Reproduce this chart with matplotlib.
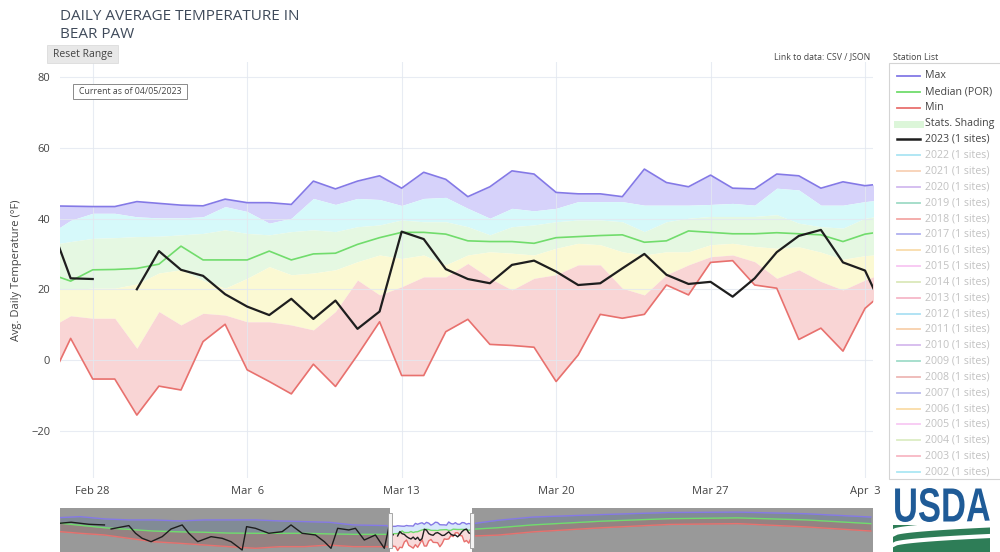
import numpy as np
import pandas as pd
import matplotlib
matplotlib.use("Agg")
import matplotlib.pyplot as plt
from matplotlib.patches import Rectangle, PathPatch
from matplotlib.lines import Line2D
from matplotlib.path import Path
from matplotlib.textpath import TextPath
from matplotlib.font_manager import FontProperties
from matplotlib.transforms import blended_transform_factory

plt.rcParams['font.family'] = ['Open Sans', 'DejaVu Sans']

# daily values, Feb 26 - Apr 4 (leap-year axis, Feb 29 has no 2023 value)
days = pd.date_range("2024-02-26", "2024-04-04", freq="D")

max_t = [43.6, 43.5, 43.4, 43.4,
         44.8, 44.3, 43.8, 43.6, 45.5, 44.5, 44.5, 44.0, 50.6, 48.4,
         50.6, 52.1, 48.6, 53.1, 51.1, 46.2, 49.0, 53.5, 52.6, 47.4,
         47.0, 47.0, 46.2, 54.0, 50.2, 49.0, 52.3, 48.6, 48.4, 52.6, 52.1,
         48.6, 50.4, 49.3, 50.0]
p90 = [35.5, 39.5, 41.5, 41.5,
       40.5, 40.2, 40.2, 40.5, 43.4, 42.0, 38.7, 40.1, 45.7, 44.0,
       45.7, 45.4, 43.7, 45.7, 46.0, 42.9, 40.1, 42.9, 42.2, 42.9,
       44.8, 44.8, 44.8, 43.8, 43.8, 43.8, 44.0, 44.3, 43.8, 48.6, 48.1,
       43.8, 43.8, 44.8, 45.5]
p70 = [32.5, 33.5, 34.4, 34.6,
       34.9, 35.0, 35.4, 35.8, 36.8, 35.8, 35.4, 36.3, 36.8, 36.3,
       37.7, 38.2, 39.6, 39.1, 39.1, 37.7, 35.4, 37.7, 38.2, 39.1,
       39.6, 39.6, 39.1, 36.3, 39.1, 40.1, 40.6, 40.6, 40.6, 41.1, 38.7,
       37.7, 37.3, 40.1, 41.0]
median = [24.5, 22.3, 25.5, 25.6,
          25.9, 27.1, 32.2, 28.3, 28.3, 28.3, 30.8, 28.3, 30.0, 30.2,
          32.7, 34.6, 36.1, 36.1, 35.6, 33.7, 33.5, 33.5, 33.0, 34.6,
          34.9, 35.2, 35.4, 33.3, 33.7, 36.5, 36.1, 35.7, 35.7, 36.0, 35.7,
          35.4, 33.5, 35.6, 36.5]
p30 = [20.0, 20.0, 20.3, 20.3,
       21.5, 24.6, 25.5, 22.5, 20.3, 23.1, 26.4, 24.1, 24.6, 25.5,
       27.8, 29.7, 28.7, 29.7, 26.9, 29.7, 30.6, 30.2, 29.7, 31.6,
       33.0, 32.6, 30.6, 29.7, 30.6, 30.6, 32.6, 33.0, 32.1, 31.6, 32.0,
       30.5, 28.5, 29.5, 30.0]
p10 = [9.0, 12.5, 11.8, 11.8,
       3.3, 13.7, 9.9, 13.2, 12.7, 10.8, 10.8, 9.9, 8.5, 13.7,
       22.6, 18.4, 20.7, 23.5, 23.5, 27.3, 23.1, 19.8, 23.1, 24.1,
       26.9, 26.9, 20.3, 18.4, 24.1, 26.9, 29.2, 29.7, 27.8, 23.1, 25.5,
       22.2, 19.8, 22.6, 25.0]
min_t = [-7.0, 6.1, -5.4, -5.4,
         -15.6, -7.4, -8.5, 5.2, 10.1, -2.8, -6.1, -9.6, -1.2, -7.5,
         1.4, 10.8, -4.4, -4.4, 8.0, 11.5, 4.4, 4.1, 3.6, -6.1,
         1.4, 12.9, 11.8, 12.9, 21.2, 18.4, 27.6, 28.1, 21.2, 20.3, 5.8,
         9.0, 2.5, 14.6, 20.0]
t2023 = [40.0, 23.1, 22.9, np.nan,
         20.0, 30.8, 25.5, 23.8, 18.6, 15.1, 12.7, 17.3, 11.6, 16.8,
         8.8, 13.7, 36.3, 34.2, 25.7, 22.9, 21.7, 26.9, 28.1, 25.0,
         21.2, 21.7, 25.9, 30.0, 24.1, 21.5, 22.1, 17.9, 23.1, 30.5, 35.1,
         36.8, 27.6, 25.3, 12.0]

# coarse readings of the range slider outside the zoom window
sl_left_dates = pd.to_datetime(["2023-10-01", "2023-10-10", "2023-10-21", "2023-11-01",
                                "2023-11-12", "2023-11-24", "2023-12-05", "2023-12-16",
                                "2023-12-28", "2024-01-08", "2024-01-19", "2024-01-30",
                                "2024-02-10", "2024-02-25"])
sl_left_max = [64.6, 67.0, 61.4, 59.0, 59.0, 56.5, 59.0, 59.0, 59.0, 56.5, 54.9, 53.3, 46.8, 45.2]
sl_left_med = [51.0, 46.0, 40.0, 36.0, 32.0, 30.0, 29.0, 27.0, 26.5, 26.5, 26.5, 25.0, 24.0, 24.0]
sl_left_min = [30.5, 26.5, 22.4, 14.3, 6.0, 2.1, -2.0, -6.0, -10.0, -6.0, -6.0, -2.0, -6.0, -6.0]
sl_right_dates = pd.to_datetime(["2024-04-15", "2024-05-01", "2024-06-01", "2024-07-01",
                                 "2024-08-01", "2024-09-01", "2024-09-30"])
sl_right_max = [58, 66, 72, 77, 78, 74, 66]
sl_right_med = [40, 47, 56, 62, 64, 59, 50]
sl_right_min = [22, 30, 40, 48, 50, 42, 32]
sl_2023_dates = pd.to_datetime(["2023-10-01", "2023-10-06", "2023-10-14", "2023-10-21", "2023-10-22",
                                "2023-10-24", "2023-11-01", "2023-11-04", "2023-11-07", "2023-11-11",
                                "2023-11-16", "2023-11-20", "2023-11-25", "2023-11-28", "2023-12-02",
                                "2023-12-08", "2023-12-13", "2023-12-17", "2023-12-22", "2023-12-24",
                                "2023-12-28", "2024-01-03", "2024-01-09", "2024-01-13", "2024-01-18",
                                "2024-01-24", "2024-01-28", "2024-01-31", "2024-02-03", "2024-02-08",
                                "2024-02-11", "2024-02-15", "2024-02-20", "2024-02-24"])
sl_2023 = [50.9, 53.4, 48.4, 46.8, np.nan, 37.0, 45.2, 26.5, 14.3, 6.1,
           18.3, 37.0, 46.8, 26.5, 6.1, 18.3, 14.3, 6.1, -14.2, 42.7,
           38.6, 26.5, 30.4, 46.8, 26.5, 22.4, 6.1, -10.0, 38.6, 34.6,
           38.6, 10.2, 22.4, -10.0]

xticks = pd.to_datetime(["2024-02-28", "2024-03-06", "2024-03-13", "2024-03-20", "2024-03-27", "2024-04-03"])
xtick_labels = ["Feb 28", "Mar  6", "Mar 13", "Mar 20", "Mar 27", "Apr  3"]
yticks = [-20, 0, 20, 40, 60, 80]

years = list(range(2022, 2001, -1))
year_colors = ["#8fdcef", "#f5c29c", "#c3a3ea", "#7fcfb3", "#f08a86", "#9696ea", "#f7d08f",
               "#f5b3ee", "#cfe0a3", "#f3a0b6", "#8fd7ef", "#f6c08f", "#c8a2e8", "#80d0b8",
               "#e8a09c", "#a0a0e8", "#f8d08a", "#f5b8f0", "#d0e6b0", "#f5a0b0", "#8fdff0"]

C_MAX, C_MED, C_MIN = "#8479e6", "#71dc6c", "#e8716e"
BANDS = ["#d6d2fa", "#d6f9fa", "#e5f8e2", "#fbf9d3", "#f9d5d5"]
TXT = "#444444"

W, H = 1000, 552
def fx(x): return x / W
def fy(y): return 1 - y / H

fig = plt.figure(figsize=(10, 5.52), dpi=100)
ax = fig.add_axes([fx(60), fy(478), 813 / W, 416 / H])

bounds = [max_t, p90, p70, p30, p10, min_t]
for i, c in enumerate(BANDS):
    ax.fill_between(days, bounds[i], bounds[i + 1], color=c, lw=0, zorder=1)
ax.plot(days, max_t, color=C_MAX, lw=1.2, zorder=3)
ax.plot(days, median, color=C_MED, lw=1.2, zorder=3)
ax.plot(days, min_t, color=C_MIN, lw=1.2, zorder=3)
ax.plot(days, t2023, color="#1e1e1e", lw=1.6, zorder=4)

ax.set_xlim(pd.Timestamp("2024-02-26 12:25"), pd.Timestamp("2024-04-03 08:40"))
ax.set_ylim(-33.4, 84.3)
ax.set_xticks(xticks)
ax.set_xticklabels(xtick_labels)
ax.set_yticks(yticks)
ax.tick_params(length=0, labelsize=8, labelcolor=TXT)
ax.tick_params(axis="x", pad=6)
ax.tick_params(axis="y", pad=7)
ax.set_axisbelow(False)
ax.grid(True, color="#e3e8f0", lw=0.8, alpha=0.8)
for s in ax.spines.values():
    s.set_visible(False)

fig.text(fx(17), fy(270), "Avg. Daily Temperature (°F)", rotation=90, ha="center", va="center",
         fontsize=8, color=TXT)

# title and controls
fig.text(fx(60), fy(17), "DAILY AVERAGE TEMPERATURE IN", fontsize=11, color="#3f4a5a", va="center")
fig.text(fx(60), fy(35), "BEAR PAW", fontsize=11, color="#3f4a5a", va="center")
fig.add_artist(Rectangle((fx(47), fy(63)), 71 / W, 18 / H, transform=fig.transFigure,
                         facecolor="#e8e8e8", edgecolor="#dcdcdc", lw=0.6))
fig.text(fx(82.5), fy(54), "Reset Range", fontsize=7.5, color=TXT, ha="center", va="center")
fig.add_artist(Rectangle((fx(73), fy(99)), 114 / W, 15 / H, transform=fig.transFigure,
                         facecolor="white", edgecolor="#8a8a8a", lw=0.7, zorder=5))
fig.text(fx(130), fy(91.5), "Current as of 04/05/2023", fontsize=6.3, color=TXT,
         ha="center", va="center", zorder=6)
fig.text(fx(870), fy(57), "Link to data: CSV / JSON", fontsize=6.3, color=TXT, ha="right", va="center")
fig.text(fx(893), fy(57), "Station List", fontsize=6.3, color=TXT, va="center")

# legend
fig.add_artist(Rectangle((fx(889), fy(479)), 120 / W, 416 / H, transform=fig.transFigure,
                         facecolor="white", edgecolor="#d4d4d4", lw=0.8))
entries = [("Max", C_MAX, True, "line"), ("Median (POR)", C_MED, True, "line"),
           ("Min", C_MIN, True, "line"), ("Stats. Shading", "#dcf6d9", True, "patch"),
           ("2023 (1 sites)", "#1e1e1e", True, "bold")]
entries += [(f"{y} (1 sites)", c, False, "line") for y, c in zip(years, year_colors)]
for i, (name, col, active, kind) in enumerate(entries):
    yy = fy(76 + i * 15.84)
    lw = {"line": 1.3, "patch": 5, "bold": 1.8}[kind]
    fig.add_artist(Line2D([fx(897), fx(920)], [yy, yy], transform=fig.transFigure,
                          color=col, lw=lw, alpha=1 if active else 0.75))
    fig.text(fx(925), yy, name, fontsize=7.7, color=TXT if active else "#c2c2c2", va="center")

# range slider
ax2 = fig.add_axes([fx(60), 0, 813 / W, 44 / H])
sl_dates = sl_left_dates.append(days).append(sl_right_dates)
sl_max = np.concatenate([sl_left_max, max_t, sl_right_max])
sl_med = np.concatenate([sl_left_med, median, sl_right_med])
sl_min = np.concatenate([sl_left_min, min_t, sl_right_min])
ax2.fill_between(sl_dates, sl_max, sl_med, color="#d8e8fb", lw=0)
ax2.fill_between(sl_dates, sl_med, sl_min, color="#f8dada", lw=0)
ax2.plot(sl_dates, sl_max, color=C_MAX, lw=1)
ax2.plot(sl_dates, sl_med, color=C_MED, lw=1)
ax2.plot(sl_dates, sl_min, color=C_MIN, lw=1)
ax2.plot(sl_2023_dates.append(days), np.concatenate([sl_2023, t2023]), color="#1e1e1e", lw=1)
x0, x1 = ax.get_xlim()
ax2.set_xlim(pd.Timestamp("2023-10-01"), pd.Timestamp("2024-10-01"))
sx0, sx1 = ax2.get_xlim()
ax2.set_ylim(-19, 88)
ax2.axvspan(sx0, x0, color="black", alpha=0.4, lw=0)
ax2.axvspan(x1, sx1, color="black", alpha=0.4, lw=0)
tr = blended_transform_factory(ax2.transData, ax2.transAxes)
for xv in (x0, x1):
    ax2.add_patch(Rectangle((xv - 0.8, 0.08), 1.6, 0.8, transform=tr, facecolor="#f4f4f4",
                            edgecolor="#9a9a9a", lw=0.6, zorder=5))
ax2.axis("off")

# USDA logo: condensed letters scaled into their box
tp = TextPath((0, 0), "USDA", size=1, prop=FontProperties(family="Liberation Sans", weight="bold"))
v = tp.vertices
(vx0, vy0), (vx1, vy1) = v.min(axis=0), v.max(axis=0)
lx = fx(893) + (v[:, 0] - vx0) / (vx1 - vx0) * 97 / W
ly = fy(522) + (v[:, 1] - vy0) / (vy1 - vy0) * 34 / H
fig.add_artist(PathPatch(Path(np.column_stack([lx, ly]), tp.codes), transform=fig.transFigure,
                         facecolor="#1f5b97", edgecolor="none"))
fig.add_artist(Rectangle((fx(893), 0), 97 / W, 27 / H, transform=fig.transFigure,
                         facecolor="#2e7d57", edgecolor="none"))
t = np.linspace(0, 1, 30)
for y_left, y_right, lw in ((533, 524, 5), (545, 536, 3)):
    xs = fx(893 + 97 * t)
    ys = fy(y_left + (y_right - y_left) * np.sqrt(t))
    fig.add_artist(Line2D(xs, ys, transform=fig.transFigure, color="white", lw=lw))

fig.savefig("out.png", dpi=100)
